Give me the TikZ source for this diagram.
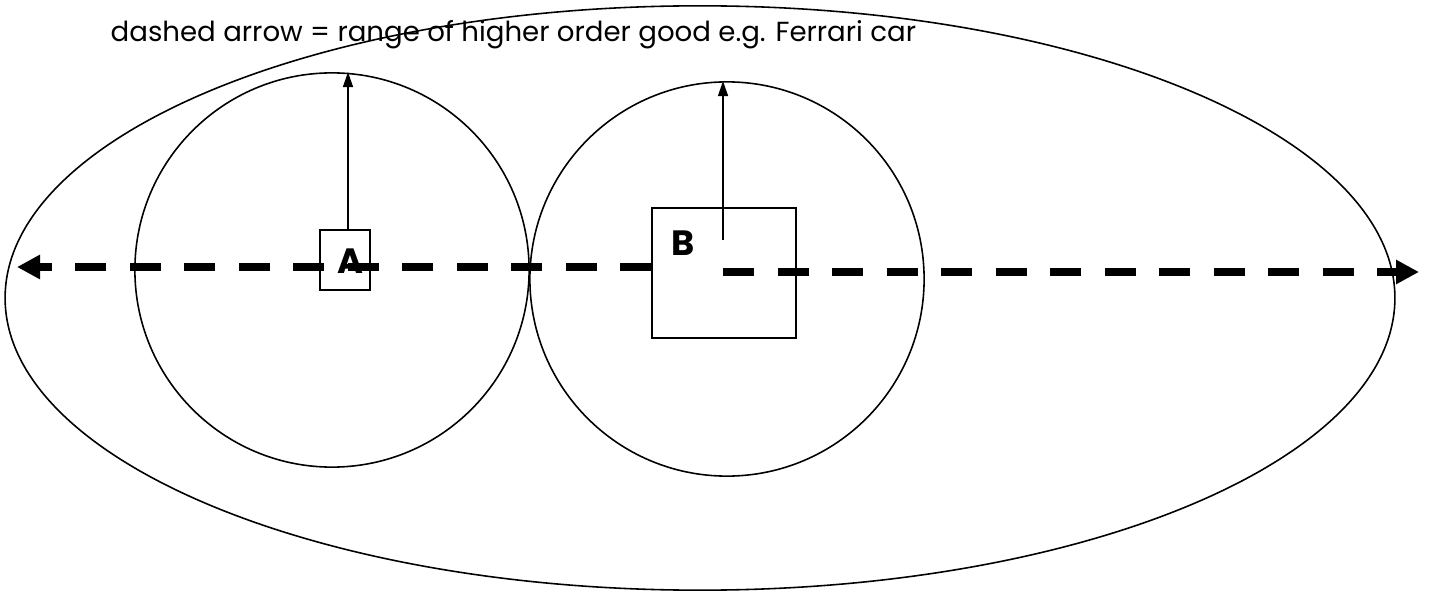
\documentclass[tikz,border=0pt]{standalone}
\usepackage{fontspec}
\setmainfont{Poppins}
\usepackage{tikz}
\usetikzlibrary{positioning,arrows.meta,shapes.geometric}

\begin{document}
\begin{tikzpicture}[
  x=0.01cm, y=-0.01cm,
  thinline/.style={line width=0.45pt},
  lowarea/.style={circle, draw, thinline, minimum size=3.94cm, inner sep=0pt},
  town/.style={draw, thinline, fill=white, inner sep=0pt},
  rangearrow/.style={-{Triangle[length=0.23cm, width=0.23cm]}, line width=2.3pt, dash pattern=on 0.31cm off 0.235cm},
  reach/.style={-{Triangle[length=0.15cm, width=0.1cm]}, thinline},
  townlabel/.style={font=\fontsize{10}{12}\selectfont\bfseries},
]
\useasboundingbox (0,0) rectangle (1430,591);

% Caption line.
\node[anchor=base west, inner sep=0pt, font=\fontsize{7.85}{9}\selectfont] (caption) at (110,42)
  {dashed arrow = range of higher order good e.g. Ferrari car};

% Market area of the higher order good, and the two lower order areas.
\node[ellipse, draw, thinline, minimum width=13.89cm, minimum height=5.84cm, inner sep=0pt] (market) at (700,298) {};
\node[lowarea] (areaA) at (332,270) {};
\node[lowarea] (areaB) at (727,279) {};

% The two towns.
\node[town, fill=none, minimum width=0.5cm, minimum height=0.6cm] (townA) at (345,260) {};
\node[townlabel] (labelA) at (350,261) {A};
\coordinate (centreB) at (723,240);
\coordinate (westend) at (17,267);
\coordinate (eastend) at (1419,272);

% Range to the left, hidden behind town B.
\draw[rangearrow, dash phase=0.365cm] (724,267) -- (westend);
\node[town, minimum width=1.44cm, minimum height=1.3cm] (townB) at (724,273) {};
\draw[rangearrow] (723,272) -- (eastend);

% Range of the lower order goods.
\draw[reach] (townA.north -| 348,0) -- (areaA.north -| 348,0);
\draw[reach] (centreB) -- (areaB.north -| centreB);

\node[townlabel] (labelB) at (683,243) {B};

\end{tikzpicture}
\end{document}
